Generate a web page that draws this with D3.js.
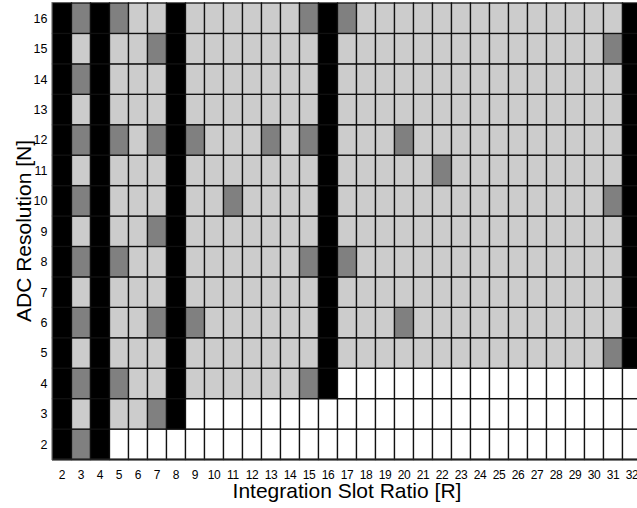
<!DOCTYPE html>
<html>
<head>
<meta charset="utf-8">
<script src="https://cdn.jsdelivr.net/npm/d3@7"></script>
<style>
  body { margin: 0; background: #fff; }
  text { font-family: "Liberation Sans", Arial, sans-serif; fill: #000; }
</style>
</head>
<body>
<svg id="chart"></svg>
<script>
// axis categories
var ratios = [2, 3, 4, 5, 6, 7, 8, 9, 10, 11, 12, 13, 14, 15, 16, 17, 18, 19, 20, 21, 22, 23, 24, 25, 26, 27, 28, 29, 30, 31, 32];
var resolutions = [2, 3, 4, 5, 6, 7, 8, 9, 10, 11, 12, 13, 14, 15, 16];

// lowest resolution that is filled for each ratio (cells below are white)
var minResolution = [2, 2, 2, 3, 3, 3, 3, 4, 4, 4, 4, 4, 4, 4, 4, 5, 5, 5, 5, 5, 5, 5, 5, 5, 5, 5, 5, 5, 5, 5, 5];

// ratios drawn as solid black columns
var blackRatios = [2, 4, 8, 16, 32];

// dark gray cells [ratio, resolution]
var darkCells = [
    [3, 16], [3, 14], [3, 12], [3, 10], [3, 8], [3, 6], [3, 4], [3, 2],
    [5, 16], [5, 12], [5, 8], [5, 4],
    [7, 15], [7, 12], [7, 9], [7, 6], [7, 3],
    [9, 12], [9, 6],
    [11, 10],
    [13, 12],
    [15, 16], [15, 12], [15, 8], [15, 4],
    [17, 16], [17, 8],
    [20, 12], [20, 6],
    [22, 11],
    [31, 15], [31, 10], [31, 5]
];

var width = 637;
var height = 508;

var svg = d3.select("#chart")
    .attr("width", width)
    .attr("height", height);

var x = d3.scaleBand()
    .domain(ratios)
    .range([52.5, 52.5 + ratios.length * 19]);

var y = d3.scaleBand()
    .domain(resolutions.slice().reverse())
    .range([3, 459.5]);

var darkKeys = {};
darkCells.forEach(function (d) {
    darkKeys[d[0] + "_" + d[1]] = true;
});

// build the cell list
var cells = [];
ratios.forEach(function (r, i) {
    resolutions.forEach(function (n) {
        var kind = "white";
        if (n >= minResolution[i]) {
            if (blackRatios.indexOf(r) >= 0) {
                kind = "black";
            } else if (darkKeys[r + "_" + n]) {
                kind = "dark";
            } else {
                kind = "light";
            }
        }
        cells.push({ r: r, n: n, kind: kind });
    });
});

var fills = { white: "#ffffff", light: "#cccccc", dark: "#808080", black: "#000000" };

svg.append("g")
    .selectAll("rect")
    .data(cells)
    .enter()
    .append("rect")
    .attr("x", function (d) { return x(d.r); })
    .attr("y", function (d) { return y(d.n); })
    .attr("width", x.bandwidth())
    .attr("height", y.bandwidth())
    .style("fill", function (d) { return fills[d.kind]; })
    .style("stroke", "#111")
    .style("stroke-width", 1.3);

// axis lines
svg.append("line")
    .attr("x1", 52).attr("x2", width)
    .attr("y1", 459.5).attr("y2", 459.5)
    .style("stroke", "#222")
    .style("stroke-width", 2);

svg.append("line")
    .attr("x1", 52).attr("x2", 52)
    .attr("y1", 2).attr("y2", 460)
    .style("stroke", "#777")
    .style("stroke-width", 1);

// tick labels
svg.append("g")
    .selectAll("text")
    .data(ratios)
    .enter()
    .append("text")
    .attr("x", function (d) { return x(d) + x.bandwidth() / 2; })
    .attr("y", 479)
    .attr("text-anchor", "middle")
    .style("font-size", "12px")
    .style("letter-spacing", "-0.3px")
    .text(function (d) { return d; });

svg.append("g")
    .selectAll("text")
    .data(resolutions)
    .enter()
    .append("text")
    .attr("x", 47.5)
    .attr("y", function (d) { return y(d) + y.bandwidth() / 2 + 4.5; })
    .attr("text-anchor", "end")
    .style("font-size", "12.5px")
    .text(function (d) { return d; });

// axis titles
svg.append("text")
    .attr("x", 347)
    .attr("y", 498)
    .attr("text-anchor", "middle")
    .style("font-size", "21px")
    .text("Integration Slot Ratio [R]");

svg.append("text")
    .attr("transform", "translate(31,231) rotate(-90)")
    .attr("text-anchor", "middle")
    .style("font-size", "21px")
    .text("ADC Resolution [N]");
</script>
</body>
</html>
